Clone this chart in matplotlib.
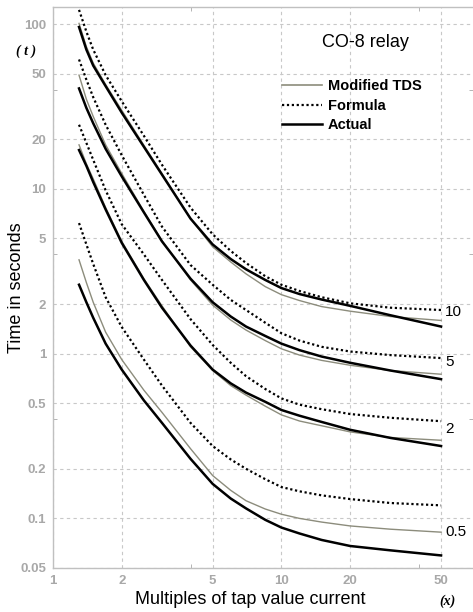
import matplotlib.pyplot as plt
from matplotlib.lines import Line2D
from matplotlib.ticker import FixedLocator

plt.rcParams['font.family'] = ['Liberation Sans', 'DejaVu Sans']

# multiples of tap value current (x)
x = [1.3, 1.4, 1.5, 1.7, 2, 2.5, 3, 4, 5, 6, 7, 8.5, 10, 12, 15, 20, 30, 50]

# time in seconds, one list per curve
actual_10 = [96, 70, 56, 42, 29, 18, 12.2, 6.6, 4.6, 3.75, 3.25, 2.8, 2.5, 2.3, 2.13, 1.95, 1.71, 1.46]
modified_10 = [101, 73, 58, 43, 30, 18.4, 12.4, 6.6, 4.45, 3.6, 3.05, 2.55, 2.28, 2.1, 1.93, 1.81, 1.68, 1.59]
formula_10 = [122, 90, 70, 49, 34, 21, 14, 7.7, 5.3, 4.2, 3.55, 2.95, 2.62, 2.4, 2.2, 2.02, 1.9, 1.84]

actual_5 = [40.7, 31, 25, 17.5, 11.9, 7.2, 4.8, 2.85, 2.05, 1.68, 1.46, 1.28, 1.15, 1.05, 0.96, 0.88, 0.79, 0.70]
modified_5 = [49, 35, 27.5, 18.5, 12.4, 7.3, 4.85, 2.8, 1.97, 1.6, 1.39, 1.2, 1.07, 0.98, 0.91, 0.85, 0.79, 0.75]
formula_5 = [61, 46, 36, 24.5, 16, 9.2, 5.9, 3.45, 2.62, 2.12, 1.84, 1.54, 1.33, 1.2, 1.1, 1.03, 0.98, 0.94]

actual_2 = [17.2, 13.8, 11, 7.5, 4.7, 2.8, 1.9, 1.12, 0.80, 0.66, 0.58, 0.51, 0.455, 0.42, 0.385, 0.345, 0.308, 0.275]
modified_2 = [18.5, 14.2, 11.5, 7.7, 4.8, 2.85, 1.95, 1.1, 0.79, 0.64, 0.56, 0.48, 0.425, 0.39, 0.365, 0.335, 0.31, 0.298]
formula_2 = [24.5, 19, 15, 9.8, 6.1, 4.0, 2.8, 1.62, 1.13, 0.88, 0.73, 0.61, 0.535, 0.49, 0.46, 0.43, 0.408, 0.389]

actual_05 = [2.62, 2.05, 1.65, 1.15, 0.8, 0.52, 0.38, 0.23, 0.162, 0.132, 0.115, 0.098, 0.088, 0.081, 0.074, 0.068, 0.064, 0.0596]
modified_05 = [3.71, 2.7, 2.05, 1.35, 0.92, 0.6, 0.44, 0.265, 0.182, 0.148, 0.128, 0.114, 0.106, 0.1, 0.095, 0.09, 0.086, 0.0825]
formula_05 = [6.2, 4.6, 3.5, 2.2, 1.45, 0.92, 0.64, 0.38, 0.275, 0.228, 0.2, 0.173, 0.155, 0.146, 0.138, 0.131, 0.124, 0.12]

tds_labels = ['10', '5', '2', '0.5']
label_y = [1.8, 0.89, 0.35, 0.083]   # where the TDS labels sit at the right

x_ticks = [1, 2, 5, 10, 20, 50]
y_ticks = [0.05, 0.1, 0.2, 0.5, 1, 2, 5, 10, 20, 50, 100]

gray = '#8c8c7c'
tick_gray = '#a8a8a8'
grid_gray = '#c8c8c8'

fig = plt.figure(figsize=(4.73, 6.12), dpi=100)
ax = fig.add_axes([53 / 473, 44 / 612, 420 / 473, 561 / 612])

groups = [
    (actual_10, modified_10, formula_10),
    (actual_5, modified_5, formula_5),
    (actual_2, modified_2, formula_2),
    (actual_05, modified_05, formula_05),
]
for act, mod, form in groups:
    ax.plot(x, form, color='black', lw=1.6, ls=(0, (1, 1.2)), zorder=3)
    ax.plot(x, mod, color=gray, lw=1.0, zorder=4)
    ax.plot(x, act, color='black', lw=1.8, zorder=5)

ax.set_xscale('log')
ax.set_yscale('log')
ax.set_xlim(1, 69)
ax.set_ylim(0.05, 127)

ax.xaxis.set_major_locator(FixedLocator(x_ticks))
ax.yaxis.set_major_locator(FixedLocator(y_ticks))
ax.set_xticklabels([str(v) for v in x_ticks])
ax.set_yticklabels([f'{v:g}' for v in y_ticks])
ax.xaxis.set_minor_locator(FixedLocator([4, 40]))
ax.yaxis.set_minor_locator(FixedLocator([0.4, 4, 40]))
ax.xaxis.set_minor_formatter(plt.NullFormatter())
ax.yaxis.set_minor_formatter(plt.NullFormatter())

ax.tick_params(which='major', length=0, pad=5, labelsize=9.5, labelcolor=tick_gray)
ax.tick_params(which='minor', direction='in', length=3, color=tick_gray,
               top=True, right=True)
for lab in ax.get_xticklabels() + ax.get_yticklabels():
    lab.set_fontweight('bold')

ax.grid(True, which='major', color=grid_gray, ls=(0, (3, 3)), lw=0.8)
for side in ['left', 'bottom', 'top']:
    ax.spines[side].set_color('#c0c0c0')
    ax.spines[side].set_linewidth(1.0)
ax.spines['right'].set_visible(False)

# curve labels at the right end
for lab, yv in zip(tds_labels, label_y):
    ax.text(52, yv, lab, fontsize=11, va='center', ha='left')

ax.text(0.64, 0.9376, 'CO-8 relay', transform=ax.transAxes, fontsize=13,
        va='center')

handles = [
    Line2D([], [], color=gray, lw=1.2),
    Line2D([], [], color='black', lw=1.6, ls=(0, (1, 1.2))),
    Line2D([], [], color='black', lw=1.8),
]
ax.legend(handles, ['Modified TDS', 'Formula', 'Actual'], loc='upper left',
          bbox_to_anchor=(0.545, 0.871), frameon=False, handlelength=2.75,
          handletextpad=0.4, labelspacing=0.37, borderpad=0, borderaxespad=0,
          prop={'weight': 'bold', 'size': 10.5})

fig.text(17 / 473, 1 - 288 / 612, 'Time in seconds', rotation=90, fontsize=13,
         ha='center', va='center')
fig.text(250 / 473, 1 - 600 / 612, 'Multiples of tap value current', fontsize=13,
         ha='center', va='center')
fig.text(26 / 473, 1 - 51 / 612, '( t )', fontsize=10, family='Liberation Serif',
         style='italic', weight='bold', ha='center', va='center')
fig.text(447 / 473, 1 - 601 / 612, '(x)', fontsize=10, family='Liberation Serif',
         style='italic', weight='bold', ha='center', va='center')

fig.savefig('out.png', dpi=100)
